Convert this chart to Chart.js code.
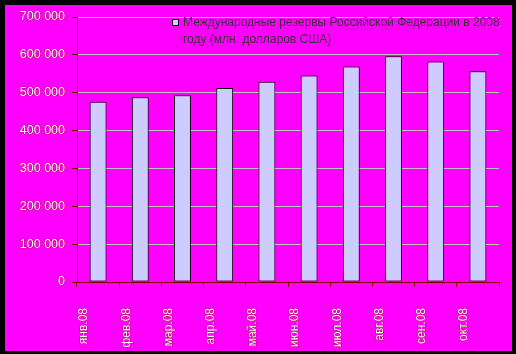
<!DOCTYPE html>
<html>
<head>
<meta charset="utf-8">
<script src="https://cdn.jsdelivr.net/npm/chart.js@4/dist/chart.umd.min.js"></script>
<style>
html,body{margin:0;padding:0;background:#000;}
#wrap{position:relative;width:516px;height:354px;}
canvas{display:block;}
</style>
</head>
<body>
<div id="wrap"><canvas id="c" width="516" height="354"></canvas></div>
<script>
const categories = ["янв.08","фев.08","мар.08","апр.08","май.08","июн.08","июл.08","авг.08","сен.08","окт.08"];
const reserves = [476400, 487800, 493300, 512600, 529000, 545500, 569000, 596600, 582200, 556800];
const seriesName = "Международные резервы Российской Федерации в 2008 году (млн. долларов США)";
const legendLines = ["Международные резервы Российской Федерации в 2008", "году (млн. долларов США)"];
const yTicks = [0, 100000, 200000, 300000, 400000, 500000, 600000, 700000];

const DARKRED = '#800000';

const framePlugin = {
  id: 'frame',
  beforeDraw(chart) {
    const ctx = chart.ctx;
    ctx.save();
    ctx.fillStyle = '#000000';
    ctx.fillRect(0, 0, 516, 354);
    ctx.fillStyle = '#FF00FF';
    ctx.fillRect(5, 5, 507, 346);
    ctx.restore();
  }
};

const legendPlugin = {
  id: 'customLegend',
  afterDraw(chart) {
    const ctx = chart.ctx;
    ctx.save();
    ctx.fillStyle = '#CCCCFF';
    ctx.strokeStyle = '#000000';
    ctx.lineWidth = 1;
    ctx.fillRect(172.5, 19.5, 6, 6);
    ctx.strokeRect(172.5, 19.5, 6, 6);
    ctx.fillStyle = '#333333';
    ctx.font = '12px "Liberation Sans", Arial, sans-serif';
    ctx.textBaseline = 'middle';
    ctx.textAlign = 'left';
    ctx.fillText(legendLines[0], 183, 23);
    ctx.fillText(legendLines[1], 183, 40);
    ctx.restore();
  }
};

function fmt(v) {
  return String(v).replace(/\B(?=(\d{3})+(?!\d))/g, ' ');
}

new Chart(document.getElementById('c'), {
  type: 'bar',
  data: {
    labels: categories,
    datasets: [{
      label: seriesName,
      data: reserves,
      backgroundColor: '#CCCCFF',
      borderColor: '#000000',
      borderWidth: 1,
      borderSkipped: false,
      categoryPercentage: 1.0,
      barPercentage: 0.4
    }]
  },
  options: {
    responsive: false,
    animation: false,
    devicePixelRatio: 1,
    layout: { padding: { left: 0, top: 17, right: 17, bottom: 0 } },
    plugins: {
      legend: { display: false },
      tooltip: { enabled: false }
    },
    scales: {
      x: {
        grid: {
          display: true,
          drawOnChartArea: false,
          drawTicks: true,
          tickLength: 5,
          tickColor: DARKRED,
          offset: true
        },
        border: { display: true, color: DARKRED, width: 1 },
        ticks: {
          minRotation: 90,
          maxRotation: 90,
          padding: 21,
          labelOffset: -14,
          color: '#FFFFFF',
          textStrokeColor: DARKRED,
          textStrokeWidth: 0.6,
          font: { family: '"Liberation Sans", Arial, sans-serif', size: 12 }
        },
        afterFit(scale) { scale.height = 72; }
      },
      y: {
        min: 0,
        max: 700000,
        afterBuildTicks(scale) { scale.ticks = yTicks.map(v => ({ value: v })); },
        grid: {
          color: '#C0C0C0',
          lineWidth: 1,
          tickLength: 5,
          tickColor: DARKRED,
          drawTicks: true
        },
        border: { display: true, color: DARKRED, width: 1 },
        ticks: {
          padding: 7,
          color: '#FFFFFF',
          textStrokeColor: DARKRED,
          textStrokeWidth: 0.6,
          font: { family: '"Liberation Sans", Arial, sans-serif', size: 12.5 },
          callback: (v) => fmt(v)
        },
        afterFit(scale) { scale.width = 77; }
      }
    }
  },
  plugins: [framePlugin, legendPlugin]
});
</script>
</body>
</html>
